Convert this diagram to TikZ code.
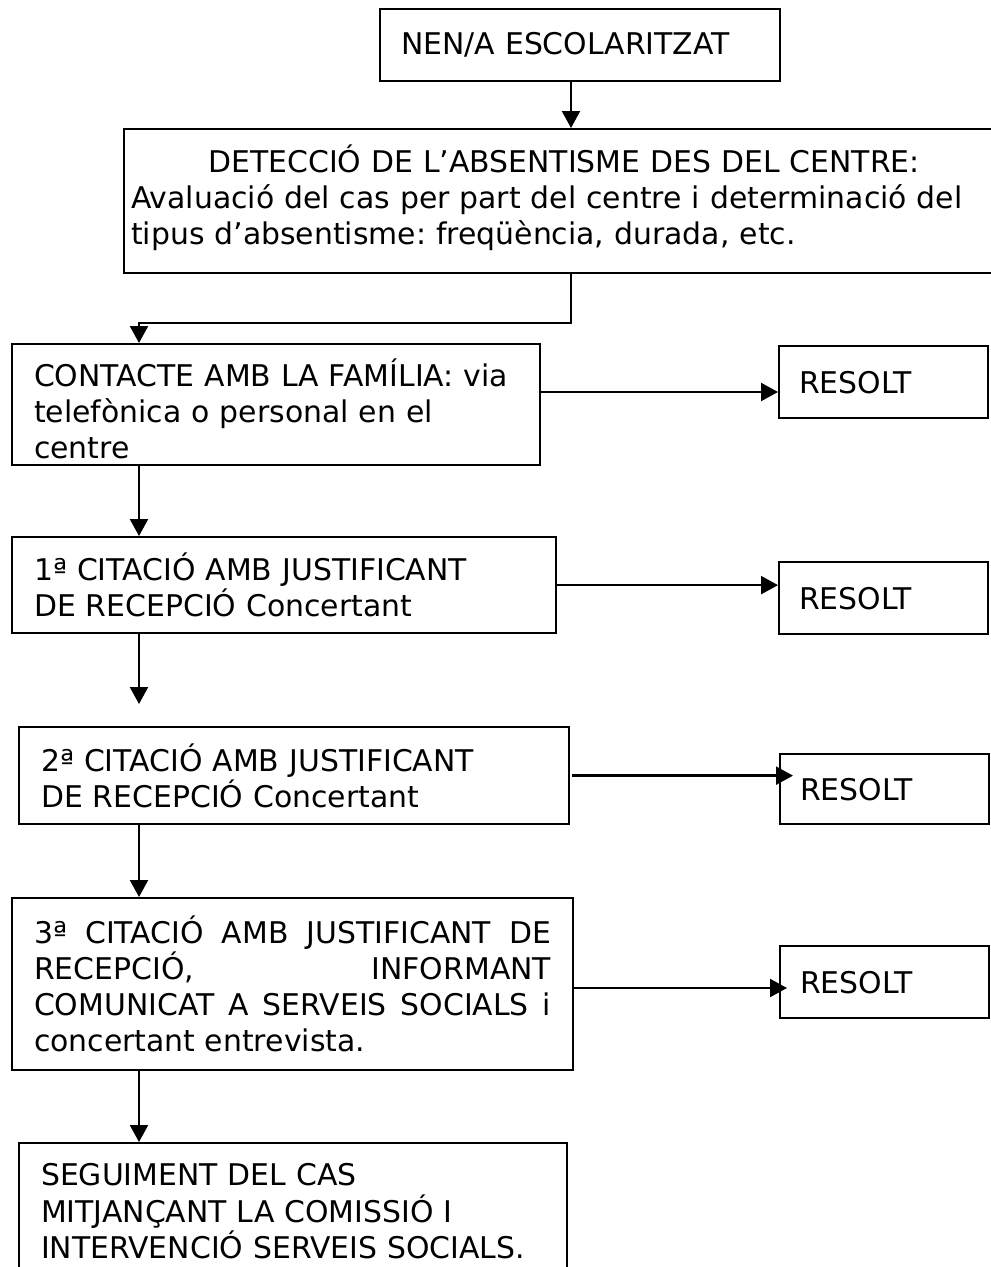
\documentclass[tikz,border=0pt]{standalone}
\usepackage{fontspec}
\setmainfont{DejaVu Sans}
\usetikzlibrary{arrows.meta, calc}
\frenchspacing

\begin{document}
\begin{tikzpicture}[x=0.02cm, y=-0.02cm,
    stage/.style={draw, line width=1.3pt, anchor=north west, align=left,
      inner xsep=0.44cm, inner ysep=0pt, font=\fontsize{17}{20.5}\selectfont},
    done/.style={stage, inner xsep=0.4cm, text width=3.38cm, minimum height=1.44cm},
    flow/.style={line width=1.3pt, -{Triangle[length=0.34cm, width=0.36cm]}}]

\useasboundingbox (0,0) rectangle (990,1267);

% Vertical guides for the connectors
\coordinate (spine) at (571,0);
\coordinate (trunk) at (139,0);

% Main steps
\node[stage, inner xsep=0.42cm, text width=7.16cm, minimum height=1.44cm] (kid) at (379,8) {NEN/A ESCOLARITZAT};
\node[stage, inner xsep=0.14cm, text width=17.32cm, minimum height=2.88cm] (detect) at (123,128)
  {{\centering DETECCIÓ DE L’ABSENTISME DES DEL CENTRE:\par}
   \noindent Avaluació del cas per part del centre i determinació del\\
   tipus d’absentisme: freqüència, durada, etc.\rule[-0.25cm]{0pt}{0pt}};
\node[stage, text width=9.68cm, minimum height=2.42cm] (family) at (11,343)
  {\rule{0pt}{0.72cm}CONTACTE AMB LA FAMÍLIA: via\\ telefònica o personal en el\\ centre};
\node[stage, text width=10cm, minimum height=1.92cm] (first) at (11,536)
  {1ª CITACIÓ AMB JUSTIFICANT\\ DE RECEPCIÓ Concertant};
\node[stage, text width=10.12cm, minimum height=1.94cm] (second) at (18,726)
  {2ª CITACIÓ AMB JUSTIFICANT\\ DE RECEPCIÓ Concertant};
\node[stage, align=justify, text width=10.34cm, minimum height=3.44cm] (third) at (11,897)
  {3ª CITACIÓ AMB JUSTIFICANT DE\linebreak RECEPCIÓ, INFORMANT\linebreak
   COMUNICAT A SERVEIS SOCIALS i\linebreak concertant entrevista.};
\node[stage, text width=10.08cm, minimum height=2.72cm] (follow) at (18,1142)
  {SEGUIMENT DEL CAS\\ MITJANÇANT LA COMISSIÓ I\\ INTERVENCIÓ SERVEIS SOCIALS.};

% Resolved cases
\node[done] (solved1) at (778,345) {RESOLT};
\node[done] (solved2) at (778,561) {RESOLT};
\node[done, minimum height=1.4cm] (solved3) at (779,753) {RESOLT};
\node[done] (solved4) at (779,945) {RESOLT};

% Arrows down the chart
\draw[flow] (kid.south -| spine) -- (detect.north -| spine);
\draw[flow] (detect.south -| spine) -- ++(0,49) -| (family.north -| trunk);
\draw[flow] (family.south -| trunk) -- (first.north -| trunk);
\coordinate (gap) at (139,704);
\draw[flow] (first.south -| trunk) -- (gap);
\draw[flow] (second.south -| trunk) -- (third.north -| trunk);
\draw[flow] (third.south -| trunk) -- (follow.north -| trunk);

% Arrows to the right
\draw[flow] (family.east |- 0,392) -- (solved1.west |- 0,392);
\draw[flow] (first.east) -- (first.east -| solved2.west);
\draw[flow] ([xshift=0.04cm]second.east) -- ($(second.east -| solved3.west)+(14,0)$);
\draw[flow] (third.east |- 0,988) -- ($(solved4.west |- 0,988)+(8,0)$);

\end{tikzpicture}
\end{document}
